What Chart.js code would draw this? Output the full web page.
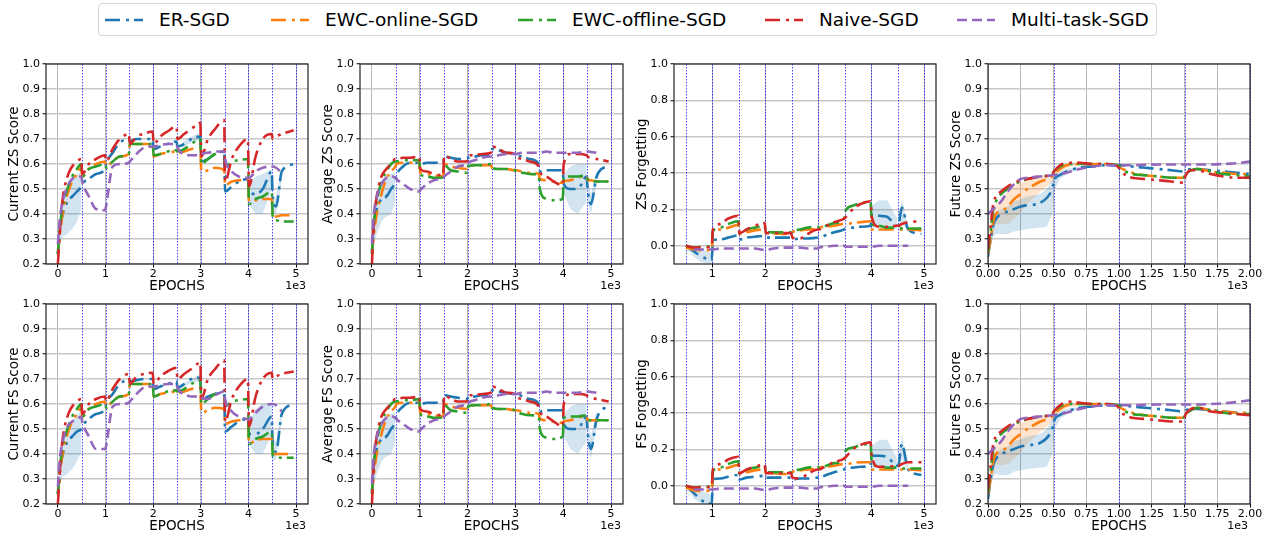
<!DOCTYPE html>
<html>
<head>
<meta charset="utf-8">
<script src="https://cdn.jsdelivr.net/npm/chart.js@4.4.0/dist/chart.umd.min.js"></script>
<style>
  html, body { margin: 0; padding: 0; background: #fff; }
  body { width: 1271px; height: 539px; overflow: hidden; position: relative; font-family: 'DejaVu Sans', sans-serif; }
  canvas { position: absolute; }
  #legend { position: absolute; left: 98px; top: 3px; width: 1057px; height: 31px; border: 1px solid #d5d5d5; border-radius: 4px; background: #fff; }
  .item { position: absolute; top: 0; height: 31px; display: flex; align-items: center; font-size: 18.5px; color: #000; white-space: nowrap; }
  .item svg { margin-right: 16px; }
</style>
</head>
<body>
<div id="legend"></div>
<canvas id="c1" width="322" height="244" style="left:0px;top:54px"></canvas>
<canvas id="c2" width="323" height="244" style="left:314px;top:54px"></canvas>
<canvas id="c3" width="322" height="244" style="left:628px;top:54px"></canvas>
<canvas id="c4" width="322" height="244" style="left:942px;top:54px"></canvas>
<canvas id="c5" width="322" height="244" style="left:0px;top:294px"></canvas>
<canvas id="c6" width="323" height="244" style="left:314px;top:294px"></canvas>
<canvas id="c7" width="322" height="244" style="left:628px;top:294px"></canvas>
<canvas id="c8" width="322" height="244" style="left:942px;top:294px"></canvas>
<script>
// ---- data ----
const seriesLabels = ['ER-SGD', 'EWC-online-SGD', 'EWC-offline-SGD', 'Naive-SGD', 'Multi-task-SGD'];

const epochsX = [0,40,100,200,300,400,490, 510,650,800,990, 1010,1150,1300,1490, 1510,1650,1800,1990, 2010,2150,2300,2490, 2510,2650,2800,2990, 3010,3150,3300,3490, 3510,3650,3800,3990, 4010,4150,4300,4490, 4510,4580,4700,4950];
const forgetX = [500,650,800,990, 1010,1150,1300,1490, 1510,1650,1800,1990, 2010,2150,2300,2490, 2510,2650,2800,2990, 3010,3150,3300,3490, 3510,3650,3800,3990, 4010,4150,4300,4490, 4510,4580,4700,4950];
const futureX = [0,20,40,60,100,150,200,250,300,400,490, 510,550,600,700,800,900,990, 1010,1050,1100,1200,1300,1400,1490, 1510,1550,1600,1700,1800,1900,2000];

const taskBounds = [500,1000,1500,2000,2500,3000,3500,4000,4500,5000];
const futureBounds = [500,1000,1500,2000];
const epochTicks = [0,1000,2000,3000,4000,5000];
const forgetTicks = [1000,2000,3000,4000,5000];
const futureTicks = [0,250,500,750,1000,1250,1500,1750,2000];
const scoreTicks = [0.2,0.3,0.4,0.5,0.6,0.7,0.8,0.9,1.0];
const forgetYTicks = [0.0,0.2,0.4,0.6,0.8,1.0];

// Current ZS Score
const curZsEr     = [0.24,0.33,0.40,0.45,0.47,0.49,0.51, 0.52,0.54,0.56,0.58, 0.60,0.645,0.685,0.70, 0.69,0.70,0.70,0.70, 0.66,0.67,0.68,0.69, 0.67,0.68,0.70,0.71, 0.61,0.62,0.64,0.65, 0.49,0.51,0.53,0.54, 0.49,0.48,0.50,0.57, 0.45,0.43,0.57,0.60];
const curZsEwcOn  = [0.24,0.32,0.40,0.48,0.53,0.56,0.585, 0.55,0.58,0.60,0.61, 0.59,0.61,0.63,0.64, 0.68,0.68,0.68,0.68, 0.63,0.64,0.645,0.65, 0.645,0.65,0.66,0.665, 0.57,0.575,0.585,0.575, 0.515,0.53,0.535,0.54, 0.45,0.455,0.46,0.46, 0.39,0.39,0.395,0.395];
const curZsEwcOff = [0.24,0.34,0.43,0.50,0.55,0.58,0.60, 0.55,0.58,0.59,0.60, 0.585,0.61,0.63,0.64, 0.68,0.68,0.68,0.68, 0.635,0.64,0.65,0.655, 0.65,0.66,0.68,0.70, 0.60,0.62,0.64,0.65, 0.59,0.61,0.615,0.62, 0.44,0.46,0.47,0.49, 0.38,0.375,0.37,0.37];
const curZsNaive  = [0.20,0.33,0.46,0.55,0.59,0.61,0.62, 0.56,0.60,0.62,0.635, 0.61,0.66,0.70,0.72, 0.68,0.71,0.72,0.73, 0.68,0.71,0.73,0.75, 0.70,0.72,0.74,0.765, 0.63,0.70,0.74,0.776, 0.53,0.62,0.67,0.70, 0.51,0.63,0.70,0.72, 0.70,0.71,0.72,0.735];
const curZsMulti  = [0.28,0.38,0.45,0.51,0.54,0.55,0.55, 0.53,0.47,0.42,0.415, 0.43,0.59,0.60,0.605, 0.61,0.64,0.665,0.67, 0.67,0.675,0.68,0.68, 0.665,0.64,0.635,0.635, 0.64,0.645,0.65,0.65, 0.62,0.57,0.55,0.545, 0.545,0.57,0.585,0.59, 0.59,0.585,0.565,null];
const curZsBandX  = [0,40,100,200,300,400,490, 500, 2600,2800,2990, 3000, 4010,4150,4300,4490, 4500, 4510,4580,4700];
const curZsErLo   = [0.22,0.28,0.31,0.32,0.34,0.37,0.42, null, 0.665,0.685,0.695, null, 0.44,0.40,0.40,0.50, null, 0.40,0.40,0.53];
const curZsErHi   = [0.26,0.37,0.44,0.50,0.53,0.56,0.57, null, 0.685,0.71,0.725, null, 0.52,0.55,0.56,0.58, null, 0.47,0.47,0.59];

// Average ZS Score
const avgZsEr     = [0.25,0.36,0.42,0.46,0.47,0.50,0.53, 0.55,0.59,0.605,0.605, 0.60,0.605,0.605,0.605, 0.63,0.625,0.62,0.62, 0.625,0.63,0.635,0.64, 0.66,0.655,0.645,0.64, 0.635,0.63,0.62,0.60, 0.57,0.575,0.575,0.575, 0.52,0.50,0.50,0.55, 0.50,0.44,0.55,0.595];
const avgZsEwcOn  = [0.24,0.32,0.40,0.48,0.54,0.57,0.59, 0.60,0.605,0.605,0.61, 0.565,0.56,0.555,0.55, 0.60,0.59,0.585,0.58, 0.59,0.595,0.595,0.595, 0.585,0.58,0.58,0.575, 0.575,0.57,0.565,0.56, 0.54,0.535,0.53,0.525, 0.53,0.535,0.545,0.55, 0.535,0.535,0.53,0.53];
const avgZsEwcOff = [0.24,0.36,0.45,0.53,0.57,0.60,0.61, 0.61,0.615,0.615,0.615, 0.56,0.55,0.545,0.545, 0.595,0.575,0.57,0.565, 0.59,0.595,0.595,0.60, 0.585,0.58,0.58,0.575, 0.57,0.565,0.56,0.555, 0.50,0.46,0.455,0.46, 0.545,0.55,0.55,0.555, 0.54,0.535,0.53,0.53];
const avgZsNaive  = [0.20,0.37,0.47,0.55,0.58,0.60,0.62, 0.62,0.625,0.625,0.63, 0.58,0.57,0.56,0.555, 0.635,0.62,0.61,0.61, 0.635,0.635,0.64,0.645, 0.67,0.66,0.645,0.64, 0.63,0.62,0.61,0.59, 0.57,0.55,0.53,0.515, 0.60,0.64,0.64,0.635, 0.63,0.625,0.62,0.61];
const avgZsMulti  = [0.28,0.40,0.47,0.52,0.545,0.55,0.545, 0.54,0.52,0.50,0.49, 0.495,0.52,0.535,0.545, 0.55,0.57,0.59,0.60, 0.605,0.615,0.625,0.63, 0.63,0.635,0.64,0.64, 0.64,0.645,0.645,0.645, 0.645,0.65,0.645,0.645, 0.645,0.645,0.645,0.65, 0.65,0.648,0.645,null];
const avgZsBandX  = [0,40,100,200,300,400,490, 500, 4010,4150,4300,4490, 4500, 4510,4580,4700];
const avgZsErLo   = [0.22,0.28,0.32,0.37,0.39,0.40,0.45, null, 0.48,0.42,0.40,0.45, null, 0.45,0.40,0.52];
const avgZsErHi   = [0.27,0.40,0.47,0.52,0.55,0.56,0.57, null, 0.56,0.59,0.60,0.60, null, 0.53,0.48,0.58];

// ZS Forgetting
const zsFgEr      = [0.0,-0.03,-0.06,-0.075, 0.03,0.035,0.045,0.057, 0.035,0.045,0.05,0.055, 0.045,0.045,0.045,0.045, 0.035,0.04,0.04,0.045, 0.045,0.06,0.075,0.09, 0.095,0.10,0.105,0.11, 0.17,0.165,0.16,0.11, 0.11,0.21,0.09,0.065];
const zsFgEwcOn   = [-0.01,-0.02,-0.025,-0.02, 0.08,0.09,0.10,0.115, 0.065,0.075,0.085,0.09, 0.07,0.07,0.065,0.065, 0.075,0.085,0.09,0.095, 0.10,0.105,0.11,0.12, 0.12,0.125,0.13,0.135, 0.09,0.09,0.09,0.09, 0.09,0.09,0.09,0.085];
const zsFgEwcOff  = [0.0,-0.01,-0.005,0.0, 0.08,0.10,0.12,0.135, 0.07,0.09,0.10,0.11, 0.075,0.075,0.075,0.075, 0.08,0.09,0.10,0.105, 0.10,0.11,0.125,0.145, 0.19,0.22,0.235,0.24, 0.12,0.11,0.10,0.10, 0.10,0.095,0.095,0.095];
const zsFgNaive   = [0.0,-0.01,-0.01,0.0, 0.09,0.12,0.15,0.165, 0.07,0.09,0.11,0.125, 0.07,0.07,0.07,0.07, 0.045,0.04,0.065,0.09, 0.09,0.11,0.13,0.15, 0.155,0.20,0.23,0.245, 0.16,0.105,0.105,0.11, 0.11,0.12,0.13,0.135];
const zsFgMulti   = [null,-0.02,-0.02,-0.02, -0.02,-0.015,-0.015,-0.015, -0.015,-0.015,-0.015,-0.022, -0.022,-0.015,-0.01,-0.01, -0.01,-0.01,-0.015,-0.015, -0.01,-0.005,0.0,0.0, -0.005,-0.005,-0.005,-0.005, -0.005,0.0,0.0,0.0, 0.0,0.0,0.0,null];
const zsFgBandX   = [500,650,800,990, 1000, 4010,4150,4300,4490, 4500, 4510,4580,4700];
const zsFgErLo    = [-0.01,-0.06,-0.09,-0.10, null, 0.10,0.10,0.10,0.09, null, 0.08,0.13,0.08];
const zsFgErHi    = [0.0,-0.005,-0.02,-0.04, null, 0.22,0.25,0.25,0.15, null, 0.12,0.26,0.10];

// Future ZS Score
const futZsEr     = [0.23,0.30,0.356,0.38,0.40,0.41,0.42,0.43,0.435,0.445,0.50, 0.54,0.556,0.57,0.585,0.59,0.595,0.595, 0.595,0.593,0.59,0.585,0.58,0.575,0.57, 0.575,0.58,0.58,0.575,0.57,0.565,0.56];
const futZsEwcOn  = [0.24,0.30,0.37,0.40,0.41,0.43,0.46,0.48,0.50,0.53,0.55, 0.565,0.58,0.595,0.60,0.60,0.60,0.595, 0.585,0.575,0.565,0.555,0.55,0.545,0.545, 0.56,0.575,0.58,0.57,0.565,0.56,0.56];
const futZsEwcOff = [0.25,0.33,0.42,0.45,0.48,0.50,0.52,0.53,0.54,0.55,0.56, 0.575,0.59,0.60,0.60,0.60,0.60,0.595, 0.585,0.57,0.56,0.555,0.55,0.545,0.545, 0.56,0.575,0.58,0.57,0.56,0.555,0.55];
const futZsNaive  = [0.26,0.35,0.44,0.47,0.49,0.51,0.525,0.535,0.54,0.55,0.56, 0.575,0.595,0.605,0.605,0.60,0.60,0.59, 0.575,0.555,0.545,0.54,0.535,0.53,0.525, 0.555,0.575,0.575,0.56,0.55,0.545,0.545];
const futZsMulti  = [0.40,0.41,0.42,0.43,0.45,0.49,0.52,0.54,0.545,0.55,0.555, 0.557,0.56,0.565,0.58,0.59,0.595,0.595, 0.595,0.595,0.595,0.597,0.598,0.598,0.598, 0.598,0.598,0.598,0.598,0.60,0.603,0.61];
const futZsBandX  = [0,20,40,60,100,150,200,250,300,400,450,490,510,550,600,700];
const futZsErLo   = [0.21,0.27,0.31,0.32,0.32,0.32,0.33,0.335,0.34,0.345,0.35,0.40,0.50,0.54,0.56,0.58];
const futZsErHi   = [0.25,0.33,0.37,0.41,0.42,0.43,0.45,0.46,0.47,0.48,0.50,0.54,0.56,0.57,0.58,0.59];
const futZsOnLo   = [0.22,0.27,0.32,0.36,0.36,0.36,0.38,0.41,0.44,0.49,0.51,0.53,0.55,0.565,0.585,0.595];
const futZsOnHi   = [0.26,0.33,0.41,0.44,0.46,0.49,0.51,0.525,0.535,0.55,0.555,0.565,0.575,0.59,0.60,0.605];

// Current FS Score
const curFsEr     = [0.24,0.33,0.40,0.45,0.47,0.49,0.50, 0.51,0.54,0.56,0.58, 0.60,0.64,0.68,0.695, 0.69,0.695,0.70,0.70, 0.66,0.67,0.68,0.69, 0.665,0.68,0.70,0.705, 0.62,0.63,0.64,0.645, 0.49,0.51,0.53,0.54, 0.48,0.48,0.50,0.55, 0.42,0.41,0.56,0.60];
const curFsEwcOn  = [0.24,0.32,0.40,0.48,0.53,0.56,0.585, 0.55,0.58,0.60,0.61, 0.59,0.61,0.63,0.64, 0.68,0.68,0.68,0.68, 0.63,0.64,0.645,0.65, 0.645,0.65,0.66,0.665, 0.565,0.575,0.585,0.58, 0.52,0.53,0.535,0.54, 0.44,0.455,0.46,0.46, 0.40,0.40,0.40,0.40];
const curFsEwcOff = [0.24,0.34,0.43,0.50,0.55,0.58,0.60, 0.55,0.58,0.59,0.60, 0.585,0.61,0.63,0.64, 0.68,0.68,0.68,0.68, 0.63,0.64,0.65,0.655, 0.65,0.66,0.68,0.695, 0.60,0.62,0.64,0.65, 0.59,0.61,0.615,0.62, 0.44,0.46,0.47,0.49, 0.39,0.385,0.385,0.385];
const curFsNaive  = [0.20,0.33,0.46,0.55,0.59,0.61,0.62, 0.56,0.60,0.62,0.63, 0.61,0.66,0.70,0.72, 0.68,0.71,0.72,0.725, 0.68,0.71,0.73,0.745, 0.70,0.72,0.74,0.765, 0.62,0.70,0.74,0.775, 0.53,0.62,0.67,0.70, 0.51,0.63,0.70,0.725, 0.70,0.71,0.72,0.73];
const curFsMulti  = [0.27,0.38,0.45,0.51,0.53,0.54,0.55, 0.53,0.47,0.42,0.42, 0.43,0.59,0.60,0.605, 0.61,0.64,0.665,0.67, 0.67,0.675,0.68,0.68, 0.665,0.64,0.63,0.63, 0.625,0.62,0.635,0.65, 0.62,0.57,0.55,0.54, 0.54,0.565,0.59,0.60, 0.60,0.595,0.57,null];
const curFsBandX  = [0,40,100,200,300,400,490, 500, 2600,2800,2990, 3000, 4010,4150,4300,4490, 4500, 4510,4580,4700];
const curFsErLo   = [0.22,0.28,0.31,0.32,0.34,0.37,0.41, null, 0.665,0.685,0.69, null, 0.44,0.40,0.40,0.48, null, 0.37,0.38,0.53];
const curFsErHi   = [0.26,0.37,0.44,0.50,0.53,0.56,0.57, null, 0.68,0.70,0.72, null, 0.52,0.58,0.60,0.60, null, 0.46,0.45,0.59];

// Average FS Score
const avgFsEr     = [0.25,0.36,0.42,0.46,0.47,0.50,0.53, 0.55,0.59,0.605,0.605, 0.60,0.605,0.605,0.605, 0.635,0.63,0.625,0.62, 0.625,0.63,0.635,0.64, 0.655,0.65,0.645,0.64, 0.64,0.63,0.62,0.60, 0.57,0.575,0.575,0.575, 0.52,0.50,0.50,0.55, 0.49,0.42,0.54,0.595];
const avgFsEwcOn  = [0.24,0.32,0.40,0.48,0.54,0.57,0.59, 0.60,0.605,0.605,0.61, 0.565,0.56,0.555,0.55, 0.60,0.59,0.585,0.58, 0.59,0.595,0.595,0.595, 0.585,0.58,0.58,0.575, 0.575,0.57,0.565,0.56, 0.54,0.535,0.53,0.525, 0.53,0.535,0.545,0.55, 0.535,0.535,0.535,0.535];
const avgFsEwcOff = [0.24,0.36,0.45,0.53,0.57,0.60,0.61, 0.61,0.615,0.615,0.62, 0.56,0.55,0.545,0.545, 0.595,0.575,0.57,0.565, 0.59,0.595,0.595,0.60, 0.585,0.58,0.58,0.575, 0.57,0.56,0.555,0.55, 0.50,0.465,0.46,0.47, 0.545,0.55,0.55,0.555, 0.54,0.535,0.535,0.535];
const avgFsNaive  = [0.20,0.37,0.47,0.55,0.58,0.60,0.62, 0.62,0.625,0.625,0.63, 0.58,0.57,0.56,0.555, 0.635,0.62,0.61,0.61, 0.635,0.635,0.64,0.645, 0.67,0.66,0.645,0.64, 0.63,0.62,0.61,0.59, 0.57,0.55,0.53,0.51, 0.60,0.64,0.64,0.635, 0.63,0.625,0.62,0.61];
const avgFsMulti  = [0.28,0.40,0.47,0.52,0.545,0.55,0.545, 0.54,0.52,0.50,0.49, 0.495,0.52,0.535,0.545, 0.55,0.57,0.59,0.60, 0.605,0.615,0.625,0.63, 0.63,0.635,0.64,0.64, 0.64,0.645,0.645,0.645, 0.645,0.65,0.645,0.645, 0.645,0.645,0.645,0.65, 0.65,0.648,0.645,null];
const avgFsBandX  = [0,40,100,200,300,400,490, 500, 4010,4150,4300,4490, 4500, 4510,4580,4700];
const avgFsErLo   = [0.22,0.28,0.32,0.37,0.39,0.40,0.45, null, 0.47,0.42,0.40,0.45, null, 0.44,0.38,0.52];
const avgFsErHi   = [0.27,0.40,0.47,0.52,0.55,0.56,0.57, null, 0.56,0.59,0.60,0.60, null, 0.53,0.47,0.58];

// FS Forgetting
const fsFgEr      = [0.0,-0.04,-0.08,-0.10, 0.035,0.04,0.05,0.06, 0.035,0.045,0.05,0.055, 0.045,0.045,0.045,0.045, 0.035,0.04,0.04,0.045, 0.045,0.06,0.075,0.09, 0.095,0.10,0.105,0.11, 0.165,0.165,0.16,0.11, 0.11,0.23,0.09,0.06];
const fsFgEwcOn   = [-0.01,-0.025,-0.03,-0.02, 0.08,0.09,0.10,0.115, 0.065,0.075,0.085,0.09, 0.07,0.07,0.065,0.065, 0.075,0.085,0.09,0.095, 0.10,0.105,0.11,0.12, 0.12,0.125,0.13,0.13, 0.09,0.09,0.09,0.09, 0.09,0.09,0.09,0.085];
const fsFgEwcOff  = [0.0,-0.01,-0.005,0.0, 0.08,0.10,0.12,0.135, 0.07,0.09,0.10,0.11, 0.075,0.075,0.075,0.075, 0.08,0.09,0.10,0.105, 0.10,0.11,0.125,0.14, 0.19,0.21,0.225,0.23, 0.12,0.11,0.10,0.10, 0.10,0.095,0.095,0.095];
const fsFgNaive   = [0.0,-0.01,-0.01,0.0, 0.09,0.12,0.145,0.16, 0.07,0.09,0.105,0.115, 0.07,0.07,0.07,0.07, 0.045,0.04,0.065,0.09, 0.09,0.11,0.13,0.15, 0.155,0.20,0.225,0.24, 0.16,0.105,0.105,0.11, 0.11,0.12,0.13,0.13];
const fsFgMulti   = [null,-0.02,-0.02,-0.02, -0.02,-0.015,-0.015,-0.015, -0.015,-0.015,-0.015,-0.022, -0.022,-0.015,-0.01,-0.01, -0.01,-0.01,-0.015,-0.015, -0.01,-0.005,0.0,0.0, -0.005,-0.005,-0.005,-0.005, -0.005,0.0,0.0,0.0, 0.0,0.0,0.0,null];
const fsFgBandX   = [500,650,800,990, 1000, 4010,4150,4300,4490, 4500, 4510,4580,4700];
const fsFgErLo    = [-0.01,-0.07,-0.10,-0.10, null, 0.10,0.10,0.10,0.09, null, 0.08,0.15,0.08];
const fsFgErHi    = [0.0,-0.005,-0.03,-0.05, null, 0.22,0.25,0.255,0.15, null, 0.12,0.28,0.10];

// Future FS Score
const futFsEr     = [0.22,0.30,0.356,0.38,0.40,0.41,0.42,0.43,0.435,0.445,0.50, 0.54,0.556,0.57,0.585,0.59,0.595,0.595, 0.595,0.593,0.59,0.585,0.58,0.575,0.57, 0.575,0.58,0.58,0.575,0.57,0.565,0.56];
const futFsEwcOn  = [0.24,0.30,0.37,0.40,0.41,0.43,0.46,0.48,0.50,0.53,0.55, 0.565,0.58,0.595,0.60,0.60,0.60,0.595, 0.585,0.575,0.565,0.555,0.55,0.545,0.545, 0.56,0.575,0.585,0.575,0.57,0.565,0.565];
const futFsEwcOff = [0.25,0.33,0.42,0.45,0.48,0.50,0.52,0.53,0.54,0.55,0.56, 0.575,0.59,0.60,0.60,0.60,0.60,0.595, 0.585,0.57,0.56,0.555,0.55,0.545,0.545, 0.56,0.575,0.585,0.575,0.565,0.56,0.56];
const futFsNaive  = [0.26,0.35,0.44,0.47,0.49,0.51,0.525,0.535,0.54,0.55,0.56, 0.575,0.595,0.61,0.605,0.60,0.60,0.59, 0.57,0.555,0.545,0.54,0.535,0.53,0.53, 0.56,0.58,0.585,0.57,0.565,0.56,0.555];
const futFsMulti  = [0.40,0.41,0.42,0.43,0.45,0.49,0.52,0.54,0.545,0.55,0.555, 0.557,0.56,0.565,0.58,0.59,0.595,0.595, 0.595,0.595,0.595,0.597,0.598,0.598,0.598, 0.598,0.598,0.598,0.60,0.603,0.608,0.615];
const futFsBandX  = [0,20,40,60,100,150,200,250,300,400,450,490,510,550,600,700];
const futFsErLo   = [0.21,0.27,0.31,0.32,0.315,0.315,0.33,0.335,0.34,0.345,0.35,0.40,0.50,0.54,0.56,0.58];
const futFsErHi   = [0.25,0.33,0.37,0.41,0.42,0.43,0.45,0.46,0.47,0.48,0.50,0.54,0.56,0.57,0.58,0.59];
const futFsOnLo   = [0.22,0.27,0.32,0.36,0.355,0.36,0.38,0.41,0.44,0.49,0.51,0.53,0.55,0.565,0.585,0.595];
const futFsOnHi   = [0.26,0.33,0.41,0.44,0.46,0.49,0.51,0.525,0.535,0.55,0.555,0.565,0.575,0.59,0.60,0.605];

// ---- styles ----
const colors = ['#1f77b4', '#ff7f0e', '#2ca02c', '#d62728', '#9467bd'];
const dashDot = [15, 6, 3, 5];
const dashed = [10, 5];
const dashes = [dashDot, dashDot, dashDot, dashDot, dashed];
const erBand = 'rgba(31,119,180,0.2)';
const onBand = 'rgba(255,127,14,0.2)';

Chart.defaults.font.family = "'DejaVu Sans', sans-serif";
Chart.defaults.color = '#000';

// legend (html)
const legendLineX = [105, 271, 518, 765, 957];
const legend = document.getElementById('legend');
seriesLabels.forEach((lab, i) => {
  const d = document.createElement('div');
  d.className = 'item';
  d.style.left = (legendLineX[i] - 99) + 'px';
  d.innerHTML = '<svg width="38" height="6"><line x1="0" y1="3" x2="38" y2="3" stroke="' + colors[i] +
    '" stroke-width="2.5" stroke-dasharray="' + dashes[i].join(' ') + '"/></svg><span>' + lab + '</span>';
  legend.appendChild(d);
});

function pts(xs, ys) {
  return xs.map((x, i) => ({x: x, y: ys[i]}));
}

// blue dotted task boundaries, full frame and the 1e3 offset text
const decor = {
  id: 'decor',
  beforeDatasetsDraw(chart, args, o) {
    const {ctx, chartArea: a} = chart;
    const x = chart.scales.x;
    ctx.save();
    ctx.strokeStyle = 'rgba(0,0,255,0.8)';
    ctx.lineWidth = 0.9;
    ctx.setLineDash([1.5, 1.5]);
    o.bounds.forEach(b => {
      const px = Math.round(x.getPixelForValue(b)) + 0.5;
      ctx.beginPath();
      ctx.moveTo(px, a.top);
      ctx.lineTo(px, a.bottom);
      ctx.stroke();
    });
    ctx.restore();
  },
  afterDraw(chart, args, o) {
    const {ctx, chartArea: a} = chart;
    ctx.save();
    ctx.strokeStyle = '#222';
    ctx.lineWidth = 1.2;
    ctx.strokeRect(a.left, a.top, a.right - a.left, a.bottom - a.top);
    ctx.fillStyle = '#000';
    ctx.font = "11px 'DejaVu Sans'";
    ctx.textAlign = 'right';
    ctx.textBaseline = 'alphabetic';
    ctx.fillText('1e3', a.right - 2, a.bottom + 25);
    ctx.restore();
  }
};

function panel(id, p) {
  const ds = [];
  p.bands.forEach(b => {
    ds.push({data: pts(b.x, b.lo), borderWidth: 0, borderColor: 'transparent', pointRadius: 0, fill: false, order: 20});
    ds.push({data: pts(b.x, b.hi), borderWidth: 0, borderColor: 'transparent', pointRadius: 0, fill: '-1', backgroundColor: b.color, order: 20});
  });
  p.lines.forEach((ys, i) => {
    ds.push({
      label: seriesLabels[i],
      data: pts(p.x, ys),
      borderColor: colors[i],
      borderWidth: 2.6,
      borderDash: dashes[i],
      pointRadius: 0,
      fill: false,
      cubicInterpolationMode: 'monotone',
      order: 10 - i
    });
  });
  new Chart(document.getElementById(id), {
    type: 'line',
    data: {datasets: ds},
    options: {
      responsive: false,
      animation: false,
      layout: {padding: {top: 10, right: 14, left: 0, bottom: 0}},
      plugins: {legend: {display: false}, tooltip: {enabled: false}, decor: {bounds: p.bounds}},
      scales: {
        x: {
          type: 'linear', min: p.xMin, max: p.xMax,
          afterBuildTicks: s => { s.ticks = p.xTicks.map(v => ({value: v})); },
          afterFit: s => { s.height = 34; },
          ticks: {callback: p.xFmt, maxRotation: 0, autoSkip: false, padding: 0, font: {size: 11}, color: '#000'},
          grid: {color: '#b8b8b8', lineWidth: 1, tickLength: 3.5, tickColor: '#000', tickWidth: 1},
          border: {display: false},
          title: {display: true, text: 'EPOCHS', font: {size: 13.5}, color: '#000', padding: {top: 0, bottom: 3}}
        },
        y: {
          type: 'linear', min: p.yMin, max: 1.0,
          afterBuildTicks: s => { s.ticks = p.yTicks.map(v => ({value: v})); },
          afterFit: s => { s.width = 46; },
          ticks: {callback: v => v.toFixed(1), padding: 2.5, font: {size: 11}, color: '#000'},
          grid: {color: '#c8c8c8', lineWidth: 1.5, tickLength: 3.5, tickColor: '#000', tickWidth: 1},
          border: {display: false},
          title: {display: true, text: p.yLabel, font: {size: 13.5}, color: '#000', padding: {top: 6, bottom: 0}}
        }
      }
    },
    plugins: [decor]
  });
}

const fmtInt = v => String(v / 1000);
const fmtFut = v => (v / 1000).toFixed(2);

panel('c1', {x: epochsX, lines: [curZsEr, curZsEwcOn, curZsEwcOff, curZsNaive, curZsMulti],
  bands: [{x: curZsBandX, lo: curZsErLo, hi: curZsErHi, color: erBand}],
  xMin: -250, xMax: 5250, xTicks: epochTicks, xFmt: fmtInt, yMin: 0.2, yTicks: scoreTicks,
  bounds: taskBounds, yLabel: 'Current ZS Score'});
panel('c2', {x: epochsX, lines: [avgZsEr, avgZsEwcOn, avgZsEwcOff, avgZsNaive, avgZsMulti],
  bands: [{x: avgZsBandX, lo: avgZsErLo, hi: avgZsErHi, color: erBand}],
  xMin: -250, xMax: 5250, xTicks: epochTicks, xFmt: fmtInt, yMin: 0.2, yTicks: scoreTicks,
  bounds: taskBounds, yLabel: 'Average ZS Score'});
panel('c3', {x: forgetX, lines: [zsFgEr, zsFgEwcOn, zsFgEwcOff, zsFgNaive, zsFgMulti],
  bands: [{x: zsFgBandX, lo: zsFgErLo, hi: zsFgErHi, color: erBand}],
  xMin: 275, xMax: 5225, xTicks: forgetTicks, xFmt: fmtInt, yMin: -0.1, yTicks: forgetYTicks,
  bounds: taskBounds, yLabel: 'ZS Forgetting'});
panel('c4', {x: futureX, lines: [futZsEr, futZsEwcOn, futZsEwcOff, futZsNaive, futZsMulti],
  bands: [{x: futZsBandX, lo: futZsErLo, hi: futZsErHi, color: erBand}, {x: futZsBandX, lo: futZsOnLo, hi: futZsOnHi, color: onBand}],
  xMin: 0, xMax: 2000, xTicks: futureTicks, xFmt: fmtFut, yMin: 0.2, yTicks: scoreTicks,
  bounds: futureBounds, yLabel: 'Future ZS Score'});
panel('c5', {x: epochsX, lines: [curFsEr, curFsEwcOn, curFsEwcOff, curFsNaive, curFsMulti],
  bands: [{x: curFsBandX, lo: curFsErLo, hi: curFsErHi, color: erBand}],
  xMin: -250, xMax: 5250, xTicks: epochTicks, xFmt: fmtInt, yMin: 0.2, yTicks: scoreTicks,
  bounds: taskBounds, yLabel: 'Current FS Score'});
panel('c6', {x: epochsX, lines: [avgFsEr, avgFsEwcOn, avgFsEwcOff, avgFsNaive, avgFsMulti],
  bands: [{x: avgFsBandX, lo: avgFsErLo, hi: avgFsErHi, color: erBand}],
  xMin: -250, xMax: 5250, xTicks: epochTicks, xFmt: fmtInt, yMin: 0.2, yTicks: scoreTicks,
  bounds: taskBounds, yLabel: 'Average FS Score'});
panel('c7', {x: forgetX, lines: [fsFgEr, fsFgEwcOn, fsFgEwcOff, fsFgNaive, fsFgMulti],
  bands: [{x: fsFgBandX, lo: fsFgErLo, hi: fsFgErHi, color: erBand}],
  xMin: 275, xMax: 5225, xTicks: forgetTicks, xFmt: fmtInt, yMin: -0.1, yTicks: forgetYTicks,
  bounds: taskBounds, yLabel: 'FS Forgetting'});
panel('c8', {x: futureX, lines: [futFsEr, futFsEwcOn, futFsEwcOff, futFsNaive, futFsMulti],
  bands: [{x: futFsBandX, lo: futFsErLo, hi: futFsErHi, color: erBand}, {x: futFsBandX, lo: futFsOnLo, hi: futFsOnHi, color: onBand}],
  xMin: 0, xMax: 2000, xTicks: futureTicks, xFmt: fmtFut, yMin: 0.2, yTicks: scoreTicks,
  bounds: futureBounds, yLabel: 'Future FS Score'});
</script>
</body>
</html>
